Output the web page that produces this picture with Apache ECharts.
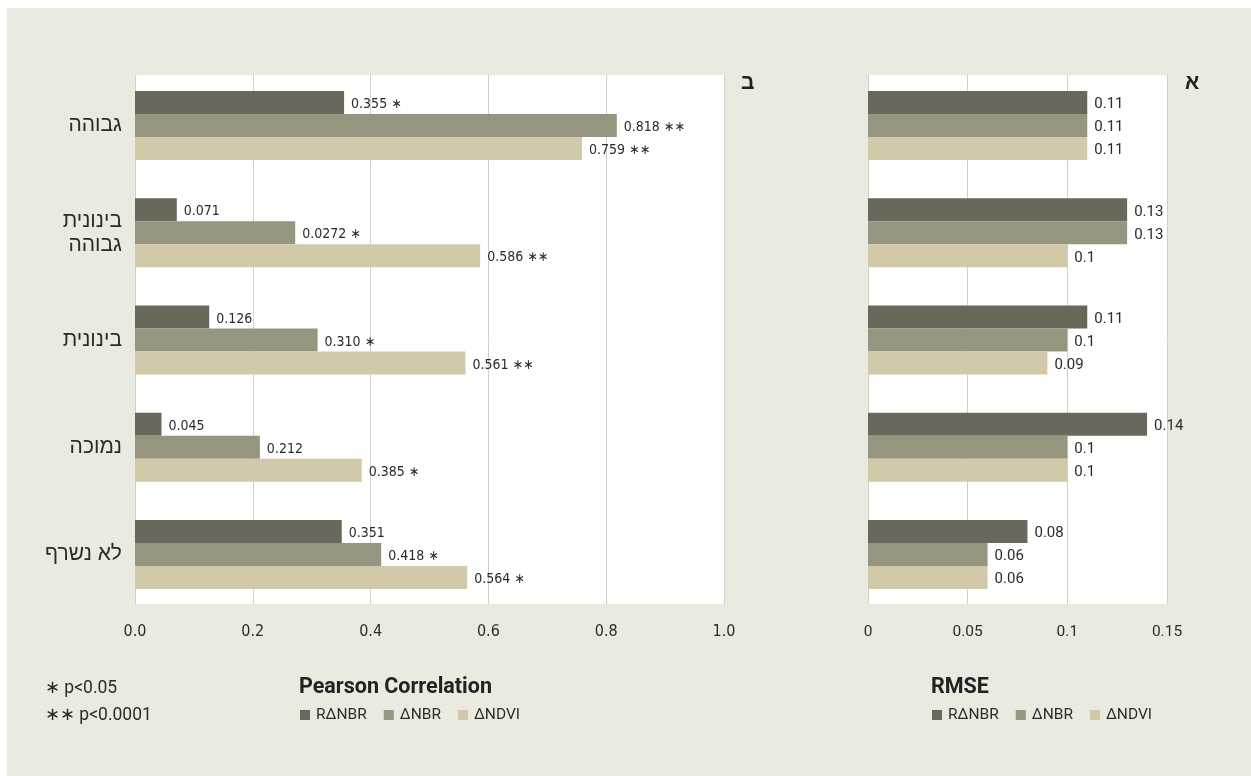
<!DOCTYPE html>
<html>
<head>
<meta charset="utf-8">
<script src="https://cdn.jsdelivr.net/npm/echarts@6/dist/echarts.min.js"></script>
<style>
html,body{margin:0;padding:0;background:#ffffff;}
#chart{position:absolute;left:7px;top:8px;width:1244px;height:768px;background:#EAEBE0;}
</style>
</head>
<body>
<div id="chart"></div>
<script>
// ---- data ----
const categories = ['גבוהה', 'בינונית\nגבוהה', 'בינונית', 'נמוכה', 'לא נשרף'];
const seriesNames = ['RΔNBR', 'ΔNBR', 'ΔNDVI'];

const pearsonRdNBR = [0.355, 0.071, 0.126, 0.045, 0.351];
const pearsonDNBR  = [0.818, 0.272, 0.310, 0.212, 0.418];
const pearsonDNDVI = [0.759, 0.586, 0.561, 0.385, 0.564];

const pearsonLabelRdNBR = ['0.355 ∗', '0.071', '0.126', '0.045', '0.351'];
const pearsonLabelDNBR  = ['0.818 ∗∗', '0.0272 ∗', '0.310 ∗', '0.212', '0.418 ∗'];
const pearsonLabelDNDVI = ['0.759 ∗∗', '0.586 ∗∗', '0.561 ∗∗', '0.385 ∗', '0.564 ∗'];

const rmseRdNBR = [0.11, 0.13, 0.11, 0.14, 0.08];
const rmseDNBR  = [0.11, 0.13, 0.1, 0.1, 0.06];
const rmseDNDVI = [0.11, 0.1, 0.09, 0.1, 0.06];

const pearsonTicks = { min: 0, max: 1.0, interval: 0.2 };
const rmseTicks = { min: 0, max: 0.15, interval: 0.05 };

// ---- style ----
const OX = 7, OY = 8;
const colors = ['#6A685A', '#96957F', '#D2C9A8'];
const narrow = '"DejaVu Sans Condensed","Liberation Sans Narrow","Liberation Sans",sans-serif';
const sans = 'Roboto,"Liberation Sans",sans-serif';
const hebrew = '"Liberation Sans","DejaVu Sans",sans-serif';
const txt = '#2b2b2b';
const gridColor = '#CFCFCF';

const chart = echarts.init(document.getElementById('chart'), null, { renderer: 'canvas' });

function barSeries(name, data, labels, idx, gridIdx, font, size) {
  return {
    type: 'bar', name: name, data: data,
    xAxisIndex: gridIdx, yAxisIndex: gridIdx,
    barWidth: 23, barGap: '0%',
    itemStyle: { color: colors[idx] },
    label: {
      show: true, position: 'right', distance: 7, offset: [0, 2],
      fontSize: size, color: txt, fontFamily: font,
      formatter: labels ? (p => labels[p.dataIndex]) : (p => String(p.value))
    },
    emphasis: { disabled: true },
    animation: false
  };
}

// bar grids (band layout) and white panel grids (background + gridlines)
const barTop = 72 - OY, barH = 536;
const panelTop = 75 - OY, panelH = 529;

function hiddenCat(gi) {
  return { type: 'category', gridIndex: gi, data: categories, inverse: true, show: false };
}

const option = {
  animation: false,
  textStyle: { fontFamily: sans },
  grid: [
    { left: 135 - OX, top: barTop, width: 589, height: barH },
    { left: 868 - OX, top: barTop, width: 299, height: barH },
    { left: 135 - OX, top: panelTop, width: 589, height: panelH, show: true, backgroundColor: '#ffffff', borderWidth: 0 },
    { left: 868 - OX, top: panelTop, width: 299, height: panelH, show: true, backgroundColor: '#ffffff', borderWidth: 0 }
  ],
  xAxis: [
    { type: 'value', gridIndex: 0, min: pearsonTicks.min, max: pearsonTicks.max, interval: pearsonTicks.interval,
      axisLine: { show: false }, axisTick: { show: false }, splitLine: { show: false },
      axisLabel: { margin: 16, fontSize: 16, color: txt, fontFamily: narrow, formatter: v => v.toFixed(1) } },
    { type: 'value', gridIndex: 1, min: rmseTicks.min, max: rmseTicks.max, interval: rmseTicks.interval,
      axisLine: { show: false }, axisTick: { show: false }, splitLine: { show: false },
      axisLabel: { margin: 16, fontSize: 15.5, color: txt, fontFamily: sans, formatter: v => String(+v.toFixed(2)) } },
    { type: 'value', gridIndex: 2, min: pearsonTicks.min, max: pearsonTicks.max, interval: pearsonTicks.interval,
      axisLine: { show: false }, axisTick: { show: false }, axisLabel: { show: false },
      splitLine: { show: true, lineStyle: { color: gridColor, width: 1 } } },
    { type: 'value', gridIndex: 3, min: rmseTicks.min, max: rmseTicks.max, interval: rmseTicks.interval,
      axisLine: { show: false }, axisTick: { show: false }, axisLabel: { show: false },
      splitLine: { show: true, lineStyle: { color: gridColor, width: 1 } } }
  ],
  yAxis: [
    { type: 'category', gridIndex: 0, data: categories, inverse: true,
      axisLine: { show: false }, axisTick: { show: false },
      axisLabel: { margin: 13, fontSize: 21, color: txt, lineHeight: 24, fontFamily: hebrew } },
    { type: 'category', gridIndex: 1, data: categories, inverse: true,
      axisLine: { show: false }, axisTick: { show: false }, axisLabel: { show: false } },
    hiddenCat(2),
    hiddenCat(3)
  ],
  title: [
    { text: 'Pearson Correlation', left: 299 - OX, top: 677 - OY, padding: 0,
      textStyle: { fontSize: 21.5, fontWeight: 'bold', color: '#222', fontFamily: sans } },
    { text: 'RMSE', left: 931 - OX, top: 677 - OY, padding: 0,
      textStyle: { fontSize: 21.5, fontWeight: 'bold', color: '#222', fontFamily: sans } }
  ],
  legend: [
    { data: seriesNames, left: 300 - OX, top: 707 - OY, padding: 0, icon: 'rect', itemWidth: 10, itemHeight: 10, itemGap: 17,
      selectedMode: false, textStyle: { fontSize: 15.5, color: txt, fontFamily: sans, padding: [0, 0, 0, 1] } },
    { data: seriesNames, left: 932 - OX, top: 707 - OY, padding: 0, icon: 'rect', itemWidth: 10, itemHeight: 10, itemGap: 17,
      selectedMode: false, textStyle: { fontSize: 15.5, color: txt, fontFamily: sans, padding: [0, 0, 0, 1] } }
  ],
  graphic: [
    { type: 'text', left: 741 - OX, top: 73 - OY, style: { text: 'ב', fontSize: 21, fontWeight: 'bold', fill: '#222', fontFamily: hebrew } },
    { type: 'text', left: 1185 - OX, top: 73 - OY, style: { text: 'א', fontSize: 21, fontWeight: 'bold', fill: '#222', fontFamily: hebrew } },
    { type: 'text', left: 45 - OX, top: 680 - OY, style: { text: '∗ p<0.05', fontSize: 17.5, fill: txt, fontFamily: sans } },
    { type: 'text', left: 45 - OX, top: 707 - OY, style: { text: '∗∗ p<0.0001', fontSize: 17.5, fill: txt, fontFamily: sans } }
  ],
  series: [
    barSeries(seriesNames[0], pearsonRdNBR, pearsonLabelRdNBR, 0, 0, narrow, 14),
    barSeries(seriesNames[1], pearsonDNBR, pearsonLabelDNBR, 1, 0, narrow, 14),
    barSeries(seriesNames[2], pearsonDNDVI, pearsonLabelDNDVI, 2, 0, narrow, 14),
    barSeries(seriesNames[0], rmseRdNBR, null, 0, 1, sans, 15),
    barSeries(seriesNames[1], rmseDNBR, null, 1, 1, sans, 15),
    barSeries(seriesNames[2], rmseDNDVI, null, 2, 1, sans, 15)
  ]
};
chart.setOption(option);
</script>
</body>
</html>
